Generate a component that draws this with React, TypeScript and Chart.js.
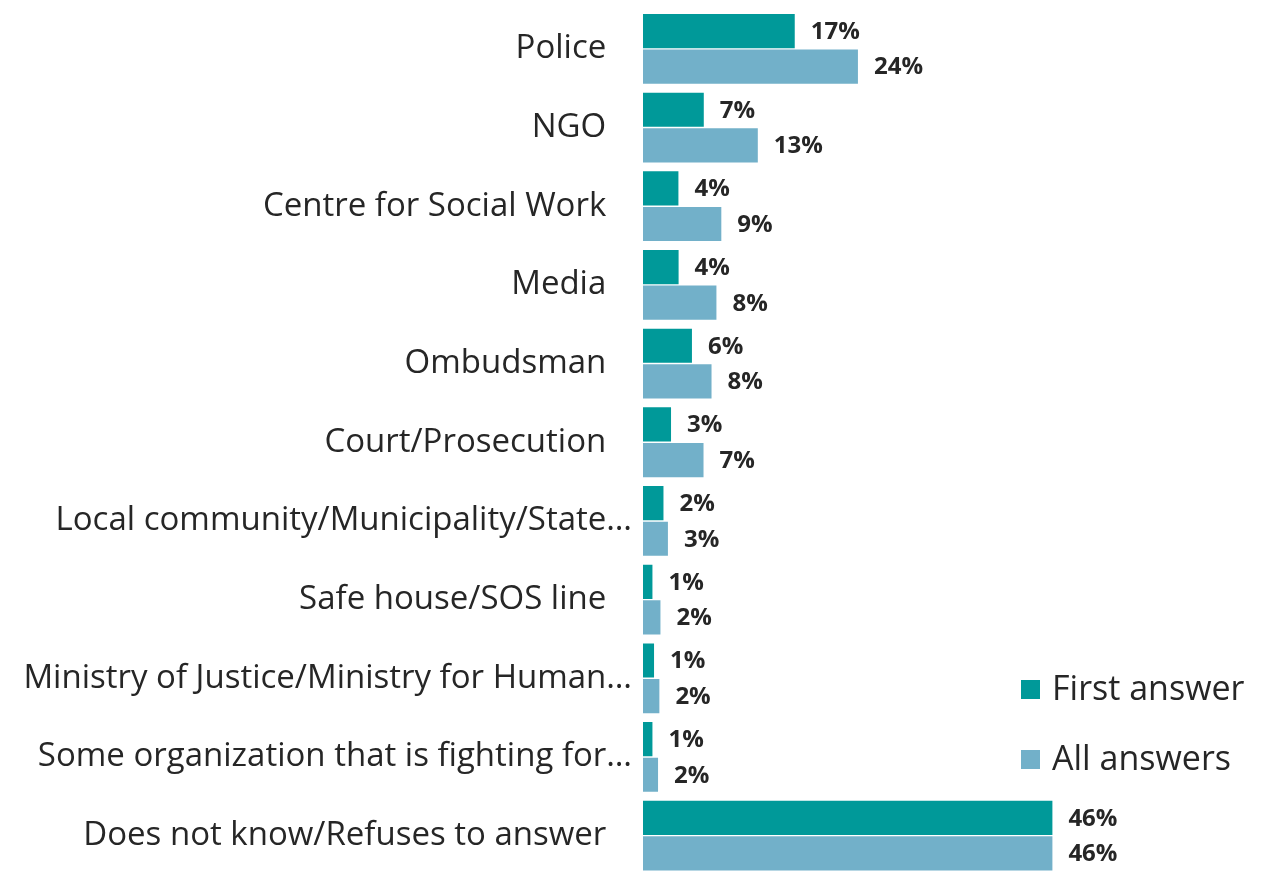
import React, { useEffect, useRef } from "react";
import { Chart, registerables } from "chart.js";

Chart.register(...registerables);

const categories = [
  "Police",
  "NGO",
  "Centre for Social Work",
  "Media",
  "Ombudsman",
  "Court/Prosecution",
  "Local community/Municipality/State…",
  "Safe house/SOS line",
  "Ministry of Justice/Ministry for Human…",
  "Some organization that is fighting for…",
  "Does not know/Refuses to answer",
];

const firstAnswer = [17.05, 6.83, 3.98, 4.0, 5.5, 3.15, 2.3, 1.06, 1.24, 1.06, 46];
const allAnswers = [24.15, 12.9, 8.8, 8.25, 7.7, 6.8, 2.8, 1.96, 1.84, 1.69, 46];

const seriesNames = ["First answer", "All answers"];
const seriesColors = ["#009999", "#72B0C9"];

const FONT = "'Open Sans', 'Noto Sans', sans-serif";
const TEXT = "#262626";

const valueLabels = {
  id: "valueLabels",
  afterDatasetsDraw(chart: any) {
    const ctx = chart.ctx;
    ctx.save();
    ctx.font = `bold 24px ${FONT}`;
    ctx.fillStyle = TEXT;
    ctx.textAlign = "left";
    ctx.textBaseline = "middle";
    chart.data.datasets.forEach((ds: any, di: number) => {
      const meta = chart.getDatasetMeta(di);
      meta.data.forEach((el: any, i: number) => {
        const v = ds.data[i];
        ctx.fillText(`${Math.round(v)}%`, el.x + 16, el.y + 1);
      });
    });
    ctx.restore();
  },
};

const customLegend = {
  id: "customLegend",
  afterDraw(chart: any) {
    const ctx = chart.ctx;
    ctx.save();
    ctx.font = `34px ${FONT}`;
    ctx.textAlign = "left";
    ctx.textBaseline = "middle";
    const x = 1021;
    const ys = [689, 759];
    seriesNames.forEach((name, i) => {
      ctx.fillStyle = seriesColors[i];
      ctx.fillRect(x, ys[i] - 9, 19, 19);
      ctx.fillStyle = TEXT;
      ctx.fillText(name, x + 31, ys[i] + 1);
    });
    ctx.restore();
  },
};

export default function App() {
  const ref = useRef<HTMLCanvasElement | null>(null);

  useEffect(() => {
    document.body.style.margin = "0";
    const canvas = ref.current;
    if (!canvas) return;
    const chart = new Chart(canvas, {
      type: "bar",
      data: {
        labels: categories,
        datasets: [
          {
            label: seriesNames[0],
            data: firstAnswer,
            backgroundColor: seriesColors[0],
            barPercentage: 0.96,
            categoryPercentage: 0.905,
          },
          {
            label: seriesNames[1],
            data: allAnswers,
            backgroundColor: seriesColors[1],
            barPercentage: 0.96,
            categoryPercentage: 0.905,
          },
        ],
      },
      options: {
        indexAxis: "y",
        animation: false,
        responsive: false,
        maintainAspectRatio: false,
        layout: { padding: { top: 9.5, bottom: 0, left: 0, right: 186 } },
        plugins: {
          legend: { display: false },
          tooltip: { enabled: false },
        },
        scales: {
          x: {
            display: false,
            min: 0,
            max: 50,
          },
          y: {
            grid: { display: false, drawTicks: false },
            border: { display: false },
            afterFit(scale: any) {
              scale.width = 643;
              scale.paddingTop = 0;
              scale.paddingBottom = 0;
            },
            ticks: {
              padding: 11,
              color: TEXT,
              font: { family: FONT, size: 33 },
              callback: function (this: any, value: any) {
                const lbl = categories[value as number];
                return lbl.endsWith("…") ? lbl : lbl + "   ";
              },
            },
          },
        },
      },
      plugins: [valueLabels, customLegend],
    });
    return () => chart.destroy();
  }, []);

  return (
    <div style={{ width: 1274, height: 875 }}>
      <canvas ref={ref} width={1274} height={875} style={{ display: "block" }} />
    </div>
  );
}
